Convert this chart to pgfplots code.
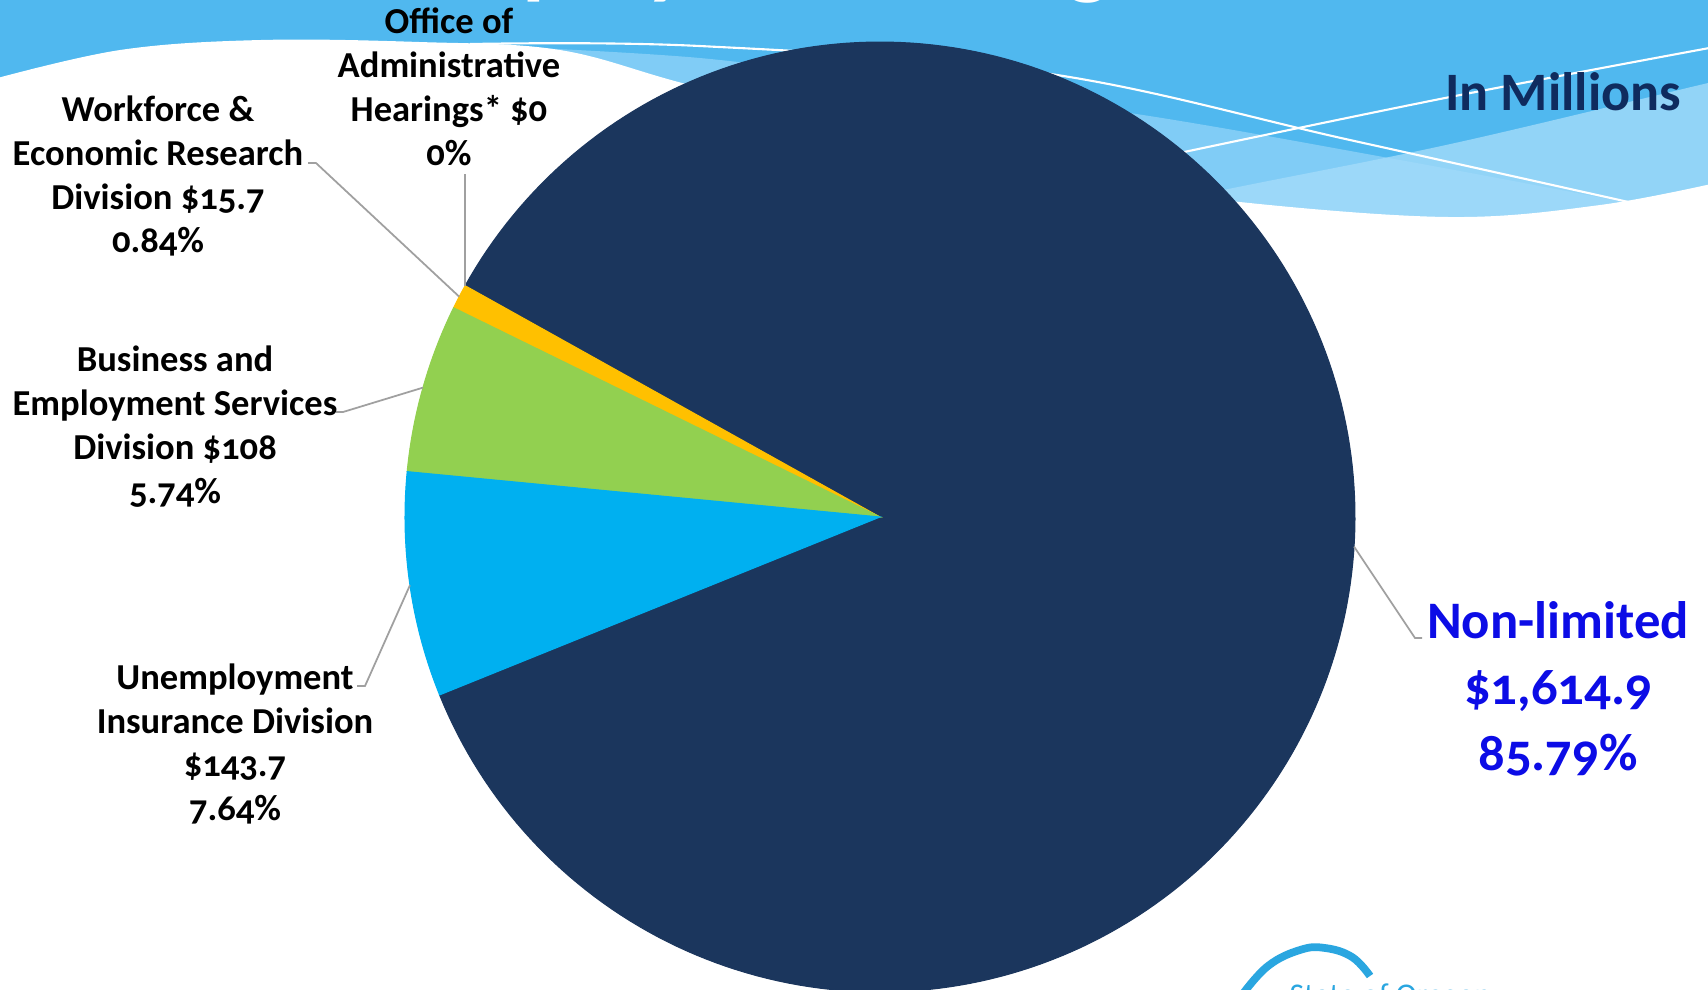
\documentclass[border=0pt]{standalone}
\usepackage{pgfplots}
\pgfplotsset{compat=1.18}
\usepackage{pgfplotstable}
\usepackage{fontspec}
\setmainfont{Carlito}[Numbers=OldStyle]
\definecolor{navy}{HTML}{1B365D}
\definecolor{cyanslice}{HTML}{00B0F0}
\definecolor{greenslice}{HTML}{92D050}
\definecolor{yellowslice}{HTML}{FFC000}
\definecolor{sky}{HTML}{50B8EF}
\definecolor{waveA}{HTML}{80CCF6}
\definecolor{waveB}{HTML}{A3DBFA}
\definecolor{labelblue}{HTML}{0C0CE6}
\definecolor{titlenavy}{HTML}{0F2B5E}
\definecolor{leader}{HTML}{A0A0A0}
\definecolor{logoblue}{HTML}{2AA6E0}

\pgfplotstableread{
division value
Nonlimited 1614.9
Office 0
Workforce 15.7
Business 108
Unemployment 143.7
}\budget

\begin{document}
\begin{tikzpicture}
\useasboundingbox (0,0) rectangle (17.08cm,9.9cm);
\clip (0,0) rectangle (17.08cm,9.9cm);
\pgfplotstablegetelem{0}{value}\of\budget \edef\vA{\pgfplotsretval}
\pgfplotstablegetelem{1}{value}\of\budget \edef\vB{\pgfplotsretval}
\pgfplotstablegetelem{2}{value}\of\budget \edef\vC{\pgfplotsretval}
\pgfplotstablegetelem{3}{value}\of\budget \edef\vD{\pgfplotsretval}
\pgfplotstablegetelem{4}{value}\of\budget \edef\vE{\pgfplotsretval}
\pgfmathsetmacro\total{\vA+\vB+\vC+\vD+\vE}
\pgfmathsetmacro\aO{202}
\pgfmathsetmacro\aA{\aO+\vA/\total*360}
\pgfmathsetmacro\aB{\aA+\vB/\total*360}
\pgfmathsetmacro\aC{\aB+\vC/\total*360}
\pgfmathsetmacro\aD{\aC+\vD/\total*360}
\pgfmathsetmacro\aE{\aD+\vE/\total*360}
\pgfmathsetmacro\mA{(\aO+\aA)/2}
\pgfmathsetmacro\mC{(\aB+\aC)/2}
\pgfmathsetmacro\mD{(\aC+\aD)/2}
\pgfmathsetmacro\mE{(\aD+\aE)/2}
\begin{axis}[at={(0,0)}, anchor=south west, scale only axis,
  width=17.08cm, height=9.9cm, xmin=0, xmax=1708, ymin=0, ymax=990,
  hide axis, clip=false]
% background decoration
\fill[sky] (-10,-10) rectangle (1720,1000);
\node[anchor=base west, inner sep=0pt, text=white, font=\bfseries\fontsize{26.5}{30}\selectfont] at (axis cs:401,1003) {Employment Budget};
\fill[waveA] plot[smooth, tension=0.6] coordinates {(450,946) (700,932) (900,905) (1130,877) (1400,830) (1640,785) (1720,770)} -- (1720,600) -- (450,600) -- cycle;
\fill[waveB, opacity=0.8] plot[smooth, tension=0.6] coordinates {(1100,775) (1238,803) (1455,847) (1708,907) (1720,909)} -- (1720,600) -- (1100,600) -- cycle;
\draw[white, line width=0.6pt] plot[smooth, tension=0.6] coordinates {(470,946) (700,944) (1044,917) (1350,850) (1633,787)};
\draw[white, line width=0.6pt] plot[smooth, tension=0.6] coordinates {(1184,838) (1450,893) (1720,944)};
\fill[white] plot[smooth, tension=0.6] coordinates {(-10,910) (120,940) (260,950) (420,948) (560,940) (690,905) (880,860) (1100,810) (1240,788) (1450,773) (1600,785) (1720,808)} -- (1720,-10) -- (-10,-10) -- cycle;
% pie slices
\addplot[fill=navy, draw=navy, line width=0.3pt, domain=\aO:\aA, samples=240, variable=\t]
  ({880+475*cos(\t)},{473+475*sin(\t)}) -- (axis cs:880,473) -- cycle;
\addplot[fill=yellowslice, draw=yellowslice, line width=0.3pt, domain=\aB:\aC, samples=10, variable=\t]
  ({880+475*cos(\t)},{473+475*sin(\t)}) -- (axis cs:880,473) -- cycle;
\addplot[fill=greenslice, draw=greenslice, line width=0.3pt, domain=\aC:\aD, samples=40, variable=\t]
  ({880+475*cos(\t)},{473+475*sin(\t)}) -- (axis cs:880,473) -- cycle;
\addplot[fill=cyanslice, draw=cyanslice, line width=0.3pt, domain=\aD:\aE, samples=50, variable=\t]
  ({880+475*cos(\t)},{473+475*sin(\t)}) -- (axis cs:880,473) -- cycle;
% leader lines
\draw[leader, line width=0.5pt] (axis cs:{880+475*cos(\aB)},{473+475*sin(\aB)}) -- (axis cs:{880+475*cos(\aB)},816);
\draw[leader, line width=0.5pt] (axis cs:{880+475*cos(\mC)},{473+475*sin(\mC)}) -- (axis cs:316,827) -- (axis cs:308,827);
\draw[leader, line width=0.5pt] (axis cs:{880+475*cos(\mD)},{473+475*sin(\mD)}) -- (axis cs:343,578) -- (axis cs:336,578);
\draw[leader, line width=0.5pt] (axis cs:{880+475*cos(\mE)},{473+475*sin(\mE)}) -- (axis cs:365,304) -- (axis cs:357,304);
\draw[leader, line width=0.5pt] (axis cs:{880+475*cos(\mA)},{473+475*sin(\mA)}) -- (axis cs:1415,352) -- (axis cs:1422,352);
% labels
\tikzset{lab/.style={align=center, inner sep=0pt, font=\bfseries\fontsize{10.4}{12.5}\selectfont}}
\node[lab] at (axis cs:449,903) {Office of\\Administrative\\Hearings* \$0\\0\%};
\node[lab] at (axis cs:158,814) {Workforce \&\\Economic Research\\Division \$15.7\\0.84\%};
\node[lab] at (axis cs:175,563) {Business and\\Employment Services\\Division \$108\\5.74\%};
\node[lab] at (axis cs:235,246) {Unemployment\\Insurance Division\\\$143.7\\7.64\%};
\node[align=center, inner sep=0pt, text=labelblue, font=\bfseries\fontsize{15}{18.8}\selectfont] at (axis cs:1558,301) {Non-limited\\\$1,614.9\\85.79\%};
\node[inner sep=0pt, text=titlenavy, font=\bfseries\fontsize{15.4}{18}\selectfont] at (axis cs:1563,898) {In Millions};
% logo fragment
\draw[logoblue, line width=2.2pt] plot[smooth, tension=0.7] coordinates {(1242,-5) (1268,24) (1300,40) (1325,42) (1352,33) (1370,14)};
\node[anchor=north west, inner sep=0pt, text=logoblue, font=\fontsize{9}{11}\selectfont] at (axis cs:1289,7) {State of Oregon};
\end{axis}
\end{tikzpicture}
\end{document}
